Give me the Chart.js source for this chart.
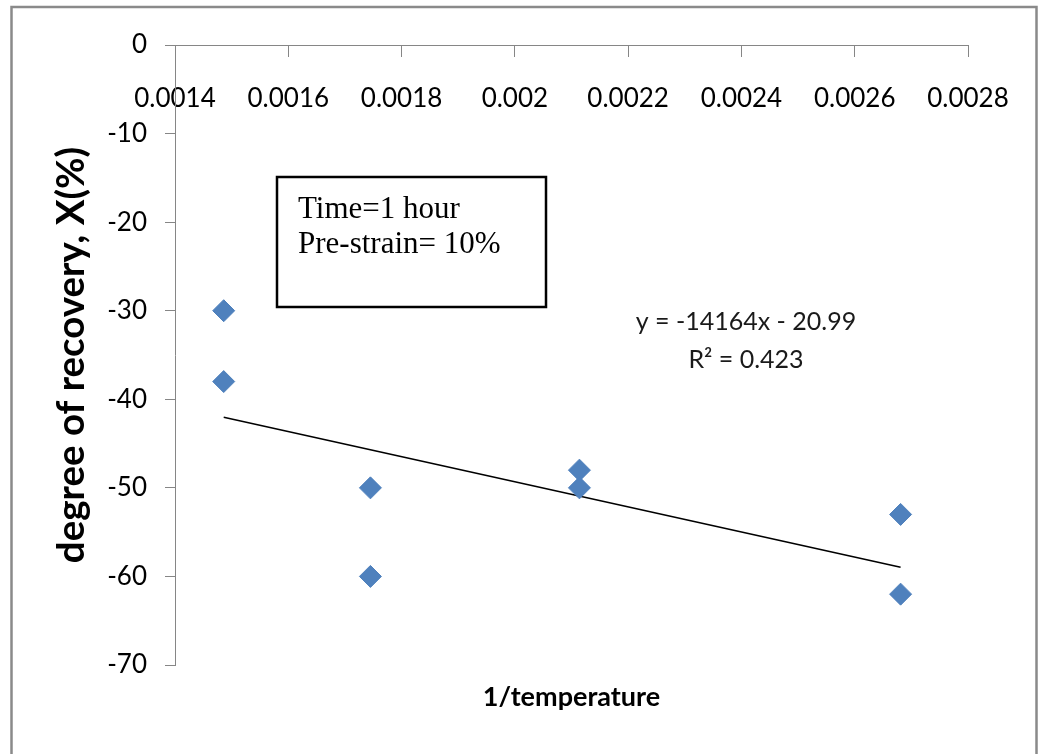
<!DOCTYPE html>
<html>
<head>
<meta charset="utf-8">
<title>Degree of recovery vs 1/temperature</title>
<script src="https://cdn.jsdelivr.net/npm/chart.js@4/dist/chart.umd.min.js"></script>
<style>
  html, body { margin: 0; padding: 0; background: #ffffff; }
  #wrap { width: 1039px; height: 754px; }
</style>
</head>
<body>
<div id="wrap"><canvas id="chart" width="1039" height="754"></canvas></div>
<script>
// Measured samples: inverse temperature (1/K) and degree of recovery X (%)
const inverseTemperature = [0.001486, 0.001486, 0.001745, 0.001745, 0.002114, 0.002114, 0.002681, 0.002681];
const recovery = [-30, -38, -50, -60, -48, -50, -53, -62];

// Linear trend line reported on the chart
const trendSlope = -14164;
const trendIntercept = -20.99;
const trendRangeX = [0.001486, 0.002681];
const trendLabel = ['y = -14164x - 20.99', 'R\u00B2 = 0.423'];

// Axis ticks
const xTickValues = [0.0014, 0.0016, 0.0018, 0.002, 0.0022, 0.0024, 0.0026, 0.0028];
const xTickLabels = ['0.0014', '0.0016', '0.0018', '0.002', '0.0022', '0.0024', '0.0026', '0.0028'];
const yTickValues = [0, -10, -20, -30, -40, -50, -60, -70];
const yTickLabels = ['0', '-10', '-20', '-30', '-40', '-50', '-60', '-70'];

// Condition note
const conditionLines = ['Time=1 hour', 'Pre-strain= 10%'];

const axisGrey = '#868686';
const markerBlue = '#4F81BD';
const sansFamily = 'Lato, "Open Sans", Roboto, sans-serif';

const scatterPoints = inverseTemperature.map((x, i) => ({ x: x, y: recovery[i] }));
const trendPoints = trendRangeX.map(x => ({ x: x, y: trendSlope * x + trendIntercept }));

// Page frame, condition box and regression label
const decorations = {
  id: 'decorations',
  beforeDraw(chart) {
    const ctx = chart.ctx;
    ctx.save();
    ctx.fillStyle = '#ffffff';
    ctx.fillRect(0, 0, chart.width, chart.height);
    ctx.strokeStyle = '#8a8a8a';
    ctx.lineWidth = 2.5;
    ctx.strokeRect(11.5, 7, 1025, 800);
    ctx.restore();
  },
  afterDraw(chart) {
    const ctx = chart.ctx;
    ctx.save();
    // condition box
    ctx.fillStyle = '#ffffff';
    ctx.fillRect(277, 177, 269, 130);
    ctx.strokeStyle = '#000000';
    ctx.lineWidth = 2.5;
    ctx.strokeRect(277, 177, 269, 130);
    ctx.fillStyle = '#000000';
    ctx.font = '31px "Liberation Serif", "Times New Roman", serif';
    ctx.textAlign = 'left';
    ctx.textBaseline = 'alphabetic';
    ctx.fillText(conditionLines[0], 298, 218);
    ctx.fillText(conditionLines[1], 298, 253);
    // regression equation
    ctx.font = '25px ' + sansFamily;
    ctx.textAlign = 'center';
    ctx.fillStyle = '#1a1a1a';
    ctx.fillText(trendLabel[0], 746, 330);
    ctx.fillText(trendLabel[1], 746, 368);
    ctx.restore();
  }
};

new Chart(document.getElementById('chart'), {
  type: 'scatter',
  data: {
    datasets: [
      {
        type: 'line',
        label: 'Linear trend',
        data: trendPoints,
        borderColor: '#000000',
        borderWidth: 1.6,
        pointRadius: 0,
        fill: false,
        order: 2
      },
      {
        label: 'X (%)',
        data: scatterPoints,
        pointStyle: 'rectRot',
        pointRadius: 11,
        pointHoverRadius: 11,
        backgroundColor: markerBlue,
        borderColor: markerBlue,
        borderWidth: 1,
        order: 1
      }
    ]
  },
  options: {
    responsive: false,
    animation: false,
    layout: { padding: { top: 45, left: 12, right: 71, bottom: 0 } },
    plugins: {
      legend: { display: false },
      tooltip: { enabled: false },
      title: {
        display: true,
        text: '1/temperature',
        position: 'bottom',
        fullSize: false,
        color: '#000000',
        font: { family: sansFamily, size: 27, weight: 'bold', lineHeight: 1.2 },
        padding: { top: 16, bottom: 40.6 }
      }
    },
    scales: {
      x: {
        type: 'linear',
        position: { y: 0 },
        min: 0.0014,
        max: 0.0028,
        afterBuildTicks(scale) {
          scale.ticks = xTickValues.map(v => ({ value: v }));
        },
        afterFit(scale) { scale.height = 0; },
        ticks: {
          autoSkip: false,
          maxRotation: 0,
          padding: 27.4,
          color: '#000000',
          font: { family: sansFamily, size: 26 },
          callback: (value, index) => xTickLabels[index]
        },
        grid: {
          display: true,
          drawOnChartArea: false,
          drawTicks: true,
          tickLength: 11,
          color: axisGrey,
          lineWidth: 1
        },
        border: { display: true, color: axisGrey, width: 1 }
      },
      y: {
        type: 'linear',
        position: 'left',
        min: -70,
        max: 0,
        afterBuildTicks(scale) {
          scale.ticks = yTickValues.map(v => ({ value: v }));
        },
        afterFit(scale) { scale.width = 163; },
        ticks: {
          padding: 18,
          color: '#000000',
          font: { family: sansFamily, size: 26 },
          callback: (value) => yTickLabels[yTickValues.indexOf(value)]
        },
        grid: {
          display: true,
          drawOnChartArea: false,
          drawTicks: true,
          tickLength: 10,
          color: axisGrey,
          lineWidth: 1
        },
        border: { display: true, color: axisGrey, width: 1 },
        title: {
          display: true,
          text: 'degree of recovery, X(%)',
          color: '#000000',
          font: { family: sansFamily, size: 38.5, weight: 'bold', lineHeight: 1.2 },
          padding: { top: 36, bottom: 0 }
        }
      }
    }
  },
  plugins: [decorations]
});
</script>
</body>
</html>
